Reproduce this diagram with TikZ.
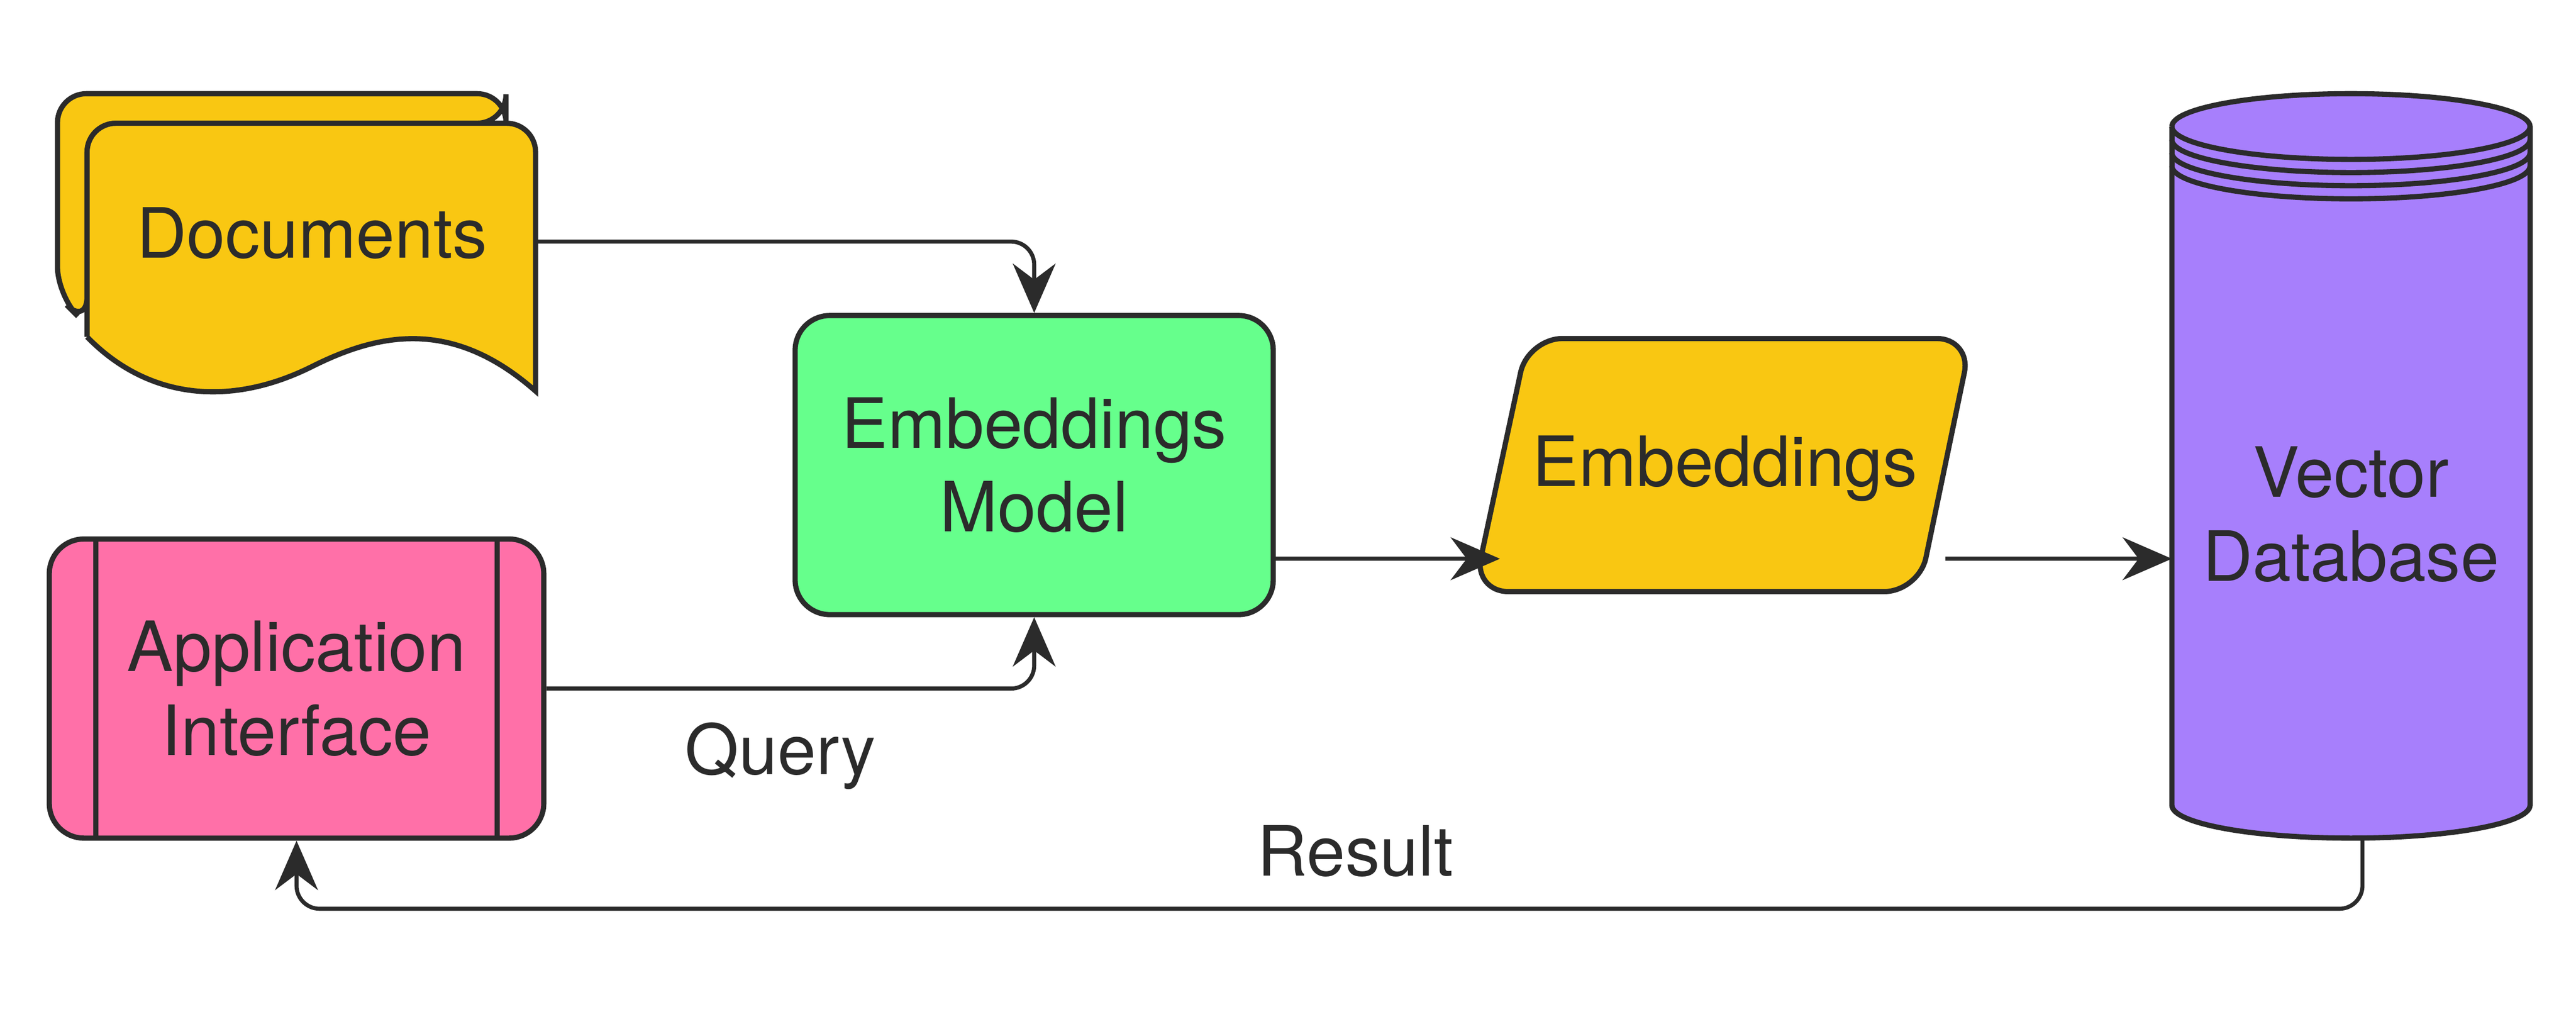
\documentclass[tikz,border=0pt]{standalone}
\usepackage{fontspec}
\setmainfont{TeX Gyre Heros}
\usetikzlibrary{arrows.meta}
\definecolor{docyellow}{HTML}{F9C712}
\definecolor{modelgreen}{HTML}{66FF8C}
\definecolor{dbpurple}{HTML}{A77FFC}
\definecolor{apppink}{HTML}{FF70A8}
\definecolor{ink}{HTML}{2B2B2B}
\begin{document}
\begin{tikzpicture}[
    font=\fontsize{12}{14.5}\selectfont,
    shape line/.style = {draw=ink, line width=0.9pt},
    label text/.style = {align=center, text=ink},
    link/.style = {draw=ink, line width=0.7pt, rounded corners=4pt, -{Stealth[length=3mm,width=2.6mm]}}
    ]
    \useasboundingbox (0,0) rectangle (15.68,6.23);

    % Documents
    \draw[shape line, fill=docyellow, rounded corners=5pt] (0.53,4.25) -- (0.35,4.43) -- (0.35,5.66) -- (3.08,5.66) -- (3.08,5.48) -- (0.53,5.48) -- cycle;
    \draw[shape line, fill=docyellow] (0.53,4.18) [rounded corners=5pt] -- (0.53,5.48) -- (3.26,5.48) [sharp corners] -- (3.26,3.85)
        .. controls (2.75,4.3) and (2.3,4.2) .. (1.9,4.0)
        .. controls (1.4,3.75) and (0.9,3.8) .. (0.53,4.18);
    \node[label text] (docs) at (1.9,4.81) {Documents};
    \coordinate (docs out) at (3.26,4.76);

    % Embeddings model
    \node[shape line, fill=modelgreen, rounded corners=6pt, minimum width=2.91cm, minimum height=1.82cm, label text] (model) at (6.295,3.40) {Embeddings\\Model};

    % Application interface
    \node[shape line, fill=apppink, rounded corners=6pt, minimum width=3.01cm, minimum height=1.82cm, label text] (app) at (1.805,2.04) {Application\\Interface};
    \draw[shape line] ([xshift=0.30cm]app.north west) -- ([xshift=0.30cm]app.south west);
    \draw[shape line] ([xshift=-0.30cm]app.north east) -- ([xshift=-0.30cm]app.south east);

    % Embeddings
    \draw[shape line, fill=docyellow, rounded corners=6pt] (8.97,2.63) -- (9.30,4.17) -- (12.00,4.17) -- (11.68,2.63) -- cycle;
    \node[label text] (emb) at (10.50,3.38) {Embeddings};
    \coordinate (emb in) at (9.13,2.83);
    \coordinate (emb out) at (11.84,2.83);

    % Vector database
    \draw[shape line, fill=dbpurple] (13.22,5.46) -- (13.22,1.33) arc[start angle=180, end angle=360, x radius=1.09, y radius=0.2] -- (15.40,5.46) arc[start angle=0, end angle=180, x radius=1.09, y radius=0.2];
    \foreach \dy in {0, 0.08, 0.16, 0.24} {
        \draw[shape line] (13.22,5.46-\dy) arc[start angle=180, end angle=360, x radius=1.09, y radius=0.2];
    }
    \draw[shape line] (13.22,5.46) -- (13.22,5.22);
    \draw[shape line] (15.40,5.46) -- (15.40,5.22);
    \node[label text] (db) at (14.31,3.10) {Vector\\Database};
    \coordinate (db in) at (13.22,2.83);
    \coordinate (db out) at (14.38,1.13);

    % Connectors
    \draw[link] (docs out) -| (model.north);
    \draw[link] (app.east) -| (model.south);
    \draw[link] (model.east |- emb in) -- (emb in);
    \draw[link] (emb out) -- (db in);
    \draw[link] (db out) -- (14.38,0.70) -| (app.south);

    % Labels
    \node[label text] (query) at (4.75,1.63) {Query};
    \node[label text] (result) at (8.25,1.05) {Result};
\end{tikzpicture}
\end{document}
